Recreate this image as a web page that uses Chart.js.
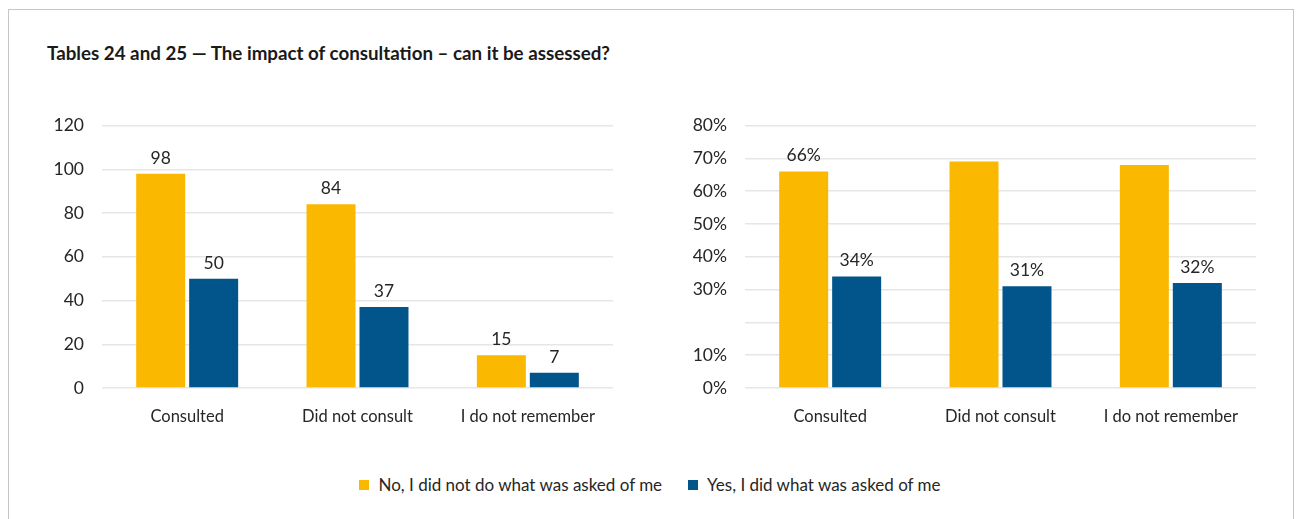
<!DOCTYPE html>
<html>
<head>
<meta charset="utf-8">
<title>Tables 24 and 25</title>
<script src="https://cdn.jsdelivr.net/npm/chart.js@4.4.1/dist/chart.umd.min.js"></script>
<style>
  body { margin: 0; background: #fff; font-family: Lato, sans-serif; color: #262626; }
  #frame { position: absolute; left: 8px; top: 9px; width: 1284px; height: 540px; border: 1px solid #c6c6c6; border-bottom: none; }
  #title { position: absolute; left: 47px; top: 41px; font-weight: bold; font-size: 18.75px; color: #1a1a1a; white-space: nowrap; }
  .chart-box { position: absolute; top: 97px; width: 600px; height: 343px; }
  #leftBox { left: 20px; }
  #rightBox { left: 663px; }
  #legend { position: absolute; top: 474px; left: 0; width: 1300px; display: flex; justify-content: center; font-size: 17px; }
  .item { display: flex; align-items: center; margin: 0 13px; }
  .swatch { width: 10px; height: 10px; margin-right: 9px; }
</style>
</head>
<body>
<div id="frame"></div>
<div id="title">Tables 24 and 25 — The impact of consultation – can it be assessed?</div>
<div class="chart-box" id="leftBox"><canvas id="countChart"></canvas></div>
<div class="chart-box" id="rightBox"><canvas id="shareChart"></canvas></div>
<div id="legend"></div>

<script>
// Categories and series
const categories = ['Consulted', 'Did not consult', 'I do not remember'];
const seriesNames = ['No, I did not do what was asked of me', 'Yes, I did what was asked of me'];
const seriesColors = ['#FAB900', '#01558A'];

// Table 24: number of respondents
const noCounts = [98, 84, 15];
const yesCounts = [50, 37, 7];

// Table 25: share of respondents (%)
const noShares = [66, 69, 68];
const yesShares = [34, 31, 32];
const noShareShown = [true, false, false];   // only the first yellow bar carries a label

// Axis ticks
const countMax = 120, countStep = 20;
const shareMax = 80, shareStep = 10;
const shareHidden = [20];   // tick left without a label

// Draw the value above each bar
const barLabels = {
    id: 'barLabels',
    afterDatasetsDraw(chart) {
        const ctx = chart.ctx;
        ctx.save();
        ctx.font = '17.5px Lato';
        ctx.fillStyle = '#262626';
        ctx.textAlign = 'center';
        ctx.textBaseline = 'alphabetic';
        chart.data.datasets.forEach((ds, i) => {
            chart.getDatasetMeta(i).data.forEach((bar, j) => {
                const txt = ds.valueLabels[j];
                if (txt) ctx.fillText(txt, bar.x, bar.y - 10);
            });
        });
        ctx.restore();
    }
};

function makeOptions(max, step, tickText) {
    return {
        responsive: true,
        maintainAspectRatio: false,
        animation: false,
        layout: { padding: { top: 1, right: 7, left: 0, bottom: 0 } },
        plugins: { legend: { display: false }, tooltip: { enabled: false } },
        datasets: { bar: { categoryPercentage: 0.622, barPercentage: 0.925 } },
        scales: {
            x: {
                grid: { display: false },
                border: { display: false },
                ticks: { color: '#262626', font: { family: 'Lato', size: 16.5 }, padding: 11, maxRotation: 0 },
                afterFit: s => { s.height = 52; }
            },
            y: {
                min: 0, max: max,
                grid: { color: '#e6e6e6', lineWidth: 1.5, drawTicks: false },
                border: { display: false },
                ticks: { stepSize: step, color: '#262626', font: { family: 'Lato', size: 17.5 }, padding: 18, callback: tickText },
                afterFit: s => { s.width = 82; }
            }
        }
    };
}

function makeDatasets(noVals, yesVals, noText, yesText) {
    return [
        { label: seriesNames[0], data: noVals, backgroundColor: seriesColors[0], valueLabels: noText },
        { label: seriesNames[1], data: yesVals, backgroundColor: seriesColors[1], valueLabels: yesText }
    ];
}

// Left chart: counts
new Chart(document.getElementById('countChart'), {
    type: 'bar',
    data: {
        labels: categories,
        datasets: makeDatasets(noCounts, yesCounts,
            noCounts.map(v => String(v)), yesCounts.map(v => String(v)))
    },
    options: makeOptions(countMax, countStep, v => v),
    plugins: [barLabels]
});

// Right chart: percentages
new Chart(document.getElementById('shareChart'), {
    type: 'bar',
    data: {
        labels: categories,
        datasets: makeDatasets(noShares, yesShares,
            noShares.map((v, i) => noShareShown[i] ? v + '%' : null), yesShares.map(v => v + '%'))
    },
    options: makeOptions(shareMax, shareStep, v => shareHidden.includes(v) ? '' : v + '%'),
    plugins: [barLabels]
});

// Shared legend under both charts
const legend = document.getElementById('legend');
seriesNames.forEach((name, i) => {
    const item = document.createElement('div');
    item.className = 'item';
    item.innerHTML = '<span class="swatch" style="background:' + seriesColors[i] + '"></span><span>' + name + '</span>';
    legend.appendChild(item);
});
</script>
</body>
</html>
